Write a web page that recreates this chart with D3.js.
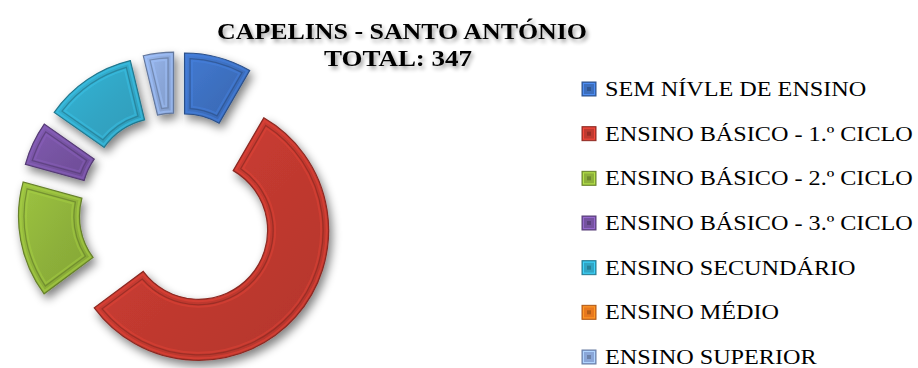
<!DOCTYPE html>
<html>
<head>
<meta charset="utf-8">
<script src="https://cdn.jsdelivr.net/npm/d3@7"></script>
<style>
  html, body { margin: 0; padding: 0; background: #ffffff; }
  svg { display: block; }
</style>
</head>
<body>
<svg id="chart" width="918" height="368"></svg>
<script>
// Education level of residents, Capelins - Santo António
const categories = [
  "SEM NÍVLE DE ENSINO",
  "ENSINO BÁSICO - 1.º CICLO",
  "ENSINO BÁSICO - 2.º CICLO",
  "ENSINO BÁSICO - 3.º CICLO",
  "ENSINO SECUNDÁRIO",
  "ENSINO MÉDIO",
  "ENSINO SUPERIOR"
];
const values = [29, 196, 50, 19, 40, 0, 13];
const colors = ["#3c6ebd", "#c0392f", "#8db03a", "#7552a0", "#31a5c4", "#e8781e", "#8aa6d8"];
const titleLines = ["CAPELINS - SANTO ANTÓNIO", "TOTAL: 347"];

const svg = d3.select("#chart");
const defs = svg.append("defs");

// soft drop shadow under the slices
const shadow = defs.append("filter").attr("id", "shadow")
  .attr("x", "-30%").attr("y", "-30%").attr("width", "160%").attr("height", "160%");
shadow.append("feGaussianBlur").attr("in", "SourceAlpha").attr("stdDeviation", 5).attr("result", "b");
shadow.append("feOffset").attr("in", "b").attr("dx", 3).attr("dy", 5).attr("result", "o");
shadow.append("feComponentTransfer").attr("in", "o").attr("result", "s")
  .append("feFuncA").attr("type", "linear").attr("slope", 0.5);
const merge = shadow.append("feMerge");
merge.append("feMergeNode").attr("in", "s");
merge.append("feMergeNode").attr("in", "SourceGraphic");

// text shadow for the title
const tshadow = defs.append("filter").attr("id", "tshadow")
  .attr("x", "-10%").attr("y", "-30%").attr("width", "120%").attr("height", "160%");
tshadow.append("feGaussianBlur").attr("in", "SourceAlpha").attr("stdDeviation", 2).attr("result", "b");
tshadow.append("feOffset").attr("in", "b").attr("dx", 2).attr("dy", 3).attr("result", "o");
tshadow.append("feComponentTransfer").attr("in", "o").attr("result", "s")
  .append("feFuncA").attr("type", "linear").attr("slope", 0.4);
const tm = tshadow.append("feMerge");
tm.append("feMergeNode").attr("in", "s");
tm.append("feMergeNode").attr("in", "SourceGraphic");

// per-colour gradients giving the slices a rounded, lit look
colors.forEach((c, i) => {
  const g = defs.append("linearGradient").attr("id", "grad" + i)
    .attr("x1", "0%").attr("y1", "0%").attr("x2", "100%").attr("y2", "100%");
  g.append("stop").attr("offset", "0%").attr("stop-color", d3.color(c).brighter(0.3));
  g.append("stop").attr("offset", "55%").attr("stop-color", c);
  g.append("stop").attr("offset", "100%").attr("stop-color", d3.color(c).darker(0.2));
});

// doughnut geometry
const cx = 177, cy = 211;
const outerR = 130, innerR = 69, explode = 29;

const pie = d3.pie().sort(null).value(d => d.value)
  .startAngle(0).endAngle(2 * Math.PI);
const slices = pie(categories.map((name, i) => ({ name, value: values[i], color: colors[i], i })))
  .filter(s => s.data.value > 0);

const arcOuter = d3.arc().innerRadius(innerR).outerRadius(outerR);
const arcRim = d3.arc().innerRadius(innerR + 2).outerRadius(outerR - 2)
  .padRadius(100).padAngle(0.04);
const arcInset = d3.arc().innerRadius(innerR + 5.5).outerRadius(outerR - 5.5)
  .padRadius(100).padAngle(0.11);
const arcCore = d3.arc().innerRadius(innerR + 7.5).outerRadius(outerR - 7.5)
  .padRadius(100).padAngle(0.15);

const pieG = svg.append("g").attr("transform", `translate(${cx},${cy})`);

const sliceG = pieG.selectAll("g.slice").data(slices).join("g")
  .attr("class", "slice")
  .attr("transform", d => {
    const mid = (d.startAngle + d.endAngle) / 2;
    return `translate(${Math.sin(mid) * explode},${-Math.cos(mid) * explode})`;
  });

sliceG.append("path")
  .attr("d", arcOuter)
  .attr("fill", d => `url(#grad${d.data.i})`)
  .attr("stroke", d => d3.color(d.data.color).darker(0.9))
  .attr("stroke-width", 1.2)
  .attr("filter", "url(#shadow)");

sliceG.append("path")
  .attr("d", arcRim)
  .attr("fill", "none")
  .attr("stroke", d => d3.color(d.data.color).brighter(0.45))
  .attr("stroke-width", 2)
  .attr("stroke-opacity", 0.6);

sliceG.append("path")
  .attr("d", arcInset)
  .attr("fill", "none")
  .attr("stroke", d => d3.color(d.data.color).darker(0.8))
  .attr("stroke-width", 1.2)
  .attr("stroke-opacity", 0.75);

sliceG.append("path")
  .attr("d", arcCore)
  .attr("fill", "none")
  .attr("stroke", d => d3.color(d.data.color).brighter(0.5))
  .attr("stroke-width", 2)
  .attr("stroke-opacity", 0.45);

// title
const title = svg.append("g").attr("filter", "url(#tshadow)");
title.append("text")
  .attr("x", 402).attr("y", 39)
  .attr("text-anchor", "middle")
  .attr("font-family", "'Liberation Serif', serif")
  .attr("font-weight", "bold")
  .attr("font-size", 24)
  .attr("textLength", 370).attr("lengthAdjust", "spacingAndGlyphs")
  .attr("fill", "#000")
  .text(titleLines[0]);
title.append("text")
  .attr("x", 398).attr("y", 66)
  .attr("text-anchor", "middle")
  .attr("font-family", "'Liberation Serif', serif")
  .attr("font-weight", "bold")
  .attr("font-size", 24)
  .attr("textLength", 148).attr("lengthAdjust", "spacingAndGlyphs")
  .attr("fill", "#000")
  .text(titleLines[1]);

// legend
const legendY = d3.scalePoint().domain(categories).range([89, 357]);
const legend = svg.append("g");
const item = legend.selectAll("g").data(categories).join("g")
  .attr("transform", d => `translate(582,${legendY(d)})`);

item.append("rect")
  .attr("x", 0).attr("y", -7).attr("width", 14).attr("height", 14)
  .attr("fill", (d, i) => colors[i])
  .attr("stroke", (d, i) => d3.color(colors[i]).darker(0.8))
  .attr("stroke-width", 1);
item.append("rect")
  .attr("x", 1.5).attr("y", -5.5).attr("width", 11).attr("height", 11)
  .attr("fill", "none")
  .attr("stroke", (d, i) => d3.color(colors[i]).brighter(0.7))
  .attr("stroke-width", 1);
item.append("rect")
  .attr("x", 5).attr("y", -2).attr("width", 4).attr("height", 4)
  .attr("fill", (d, i) => d3.color(colors[i]).darker(0.7));

const labels = item.append("text")
  .attr("x", 23).attr("y", 7)
  .attr("font-family", "'Liberation Serif', serif")
  .attr("font-size", 22)
  .attr("fill", "#000")
  .text(d => d);

// fit labels horizontally so the longest one spans its measured width
const longest = d3.max(labels.nodes(), n => n.getComputedTextLength());
const sx = 308 / longest;
labels.attr("transform", `translate(23,0) scale(${sx},1) translate(-23,0)`);
</script>
</body>
</html>
